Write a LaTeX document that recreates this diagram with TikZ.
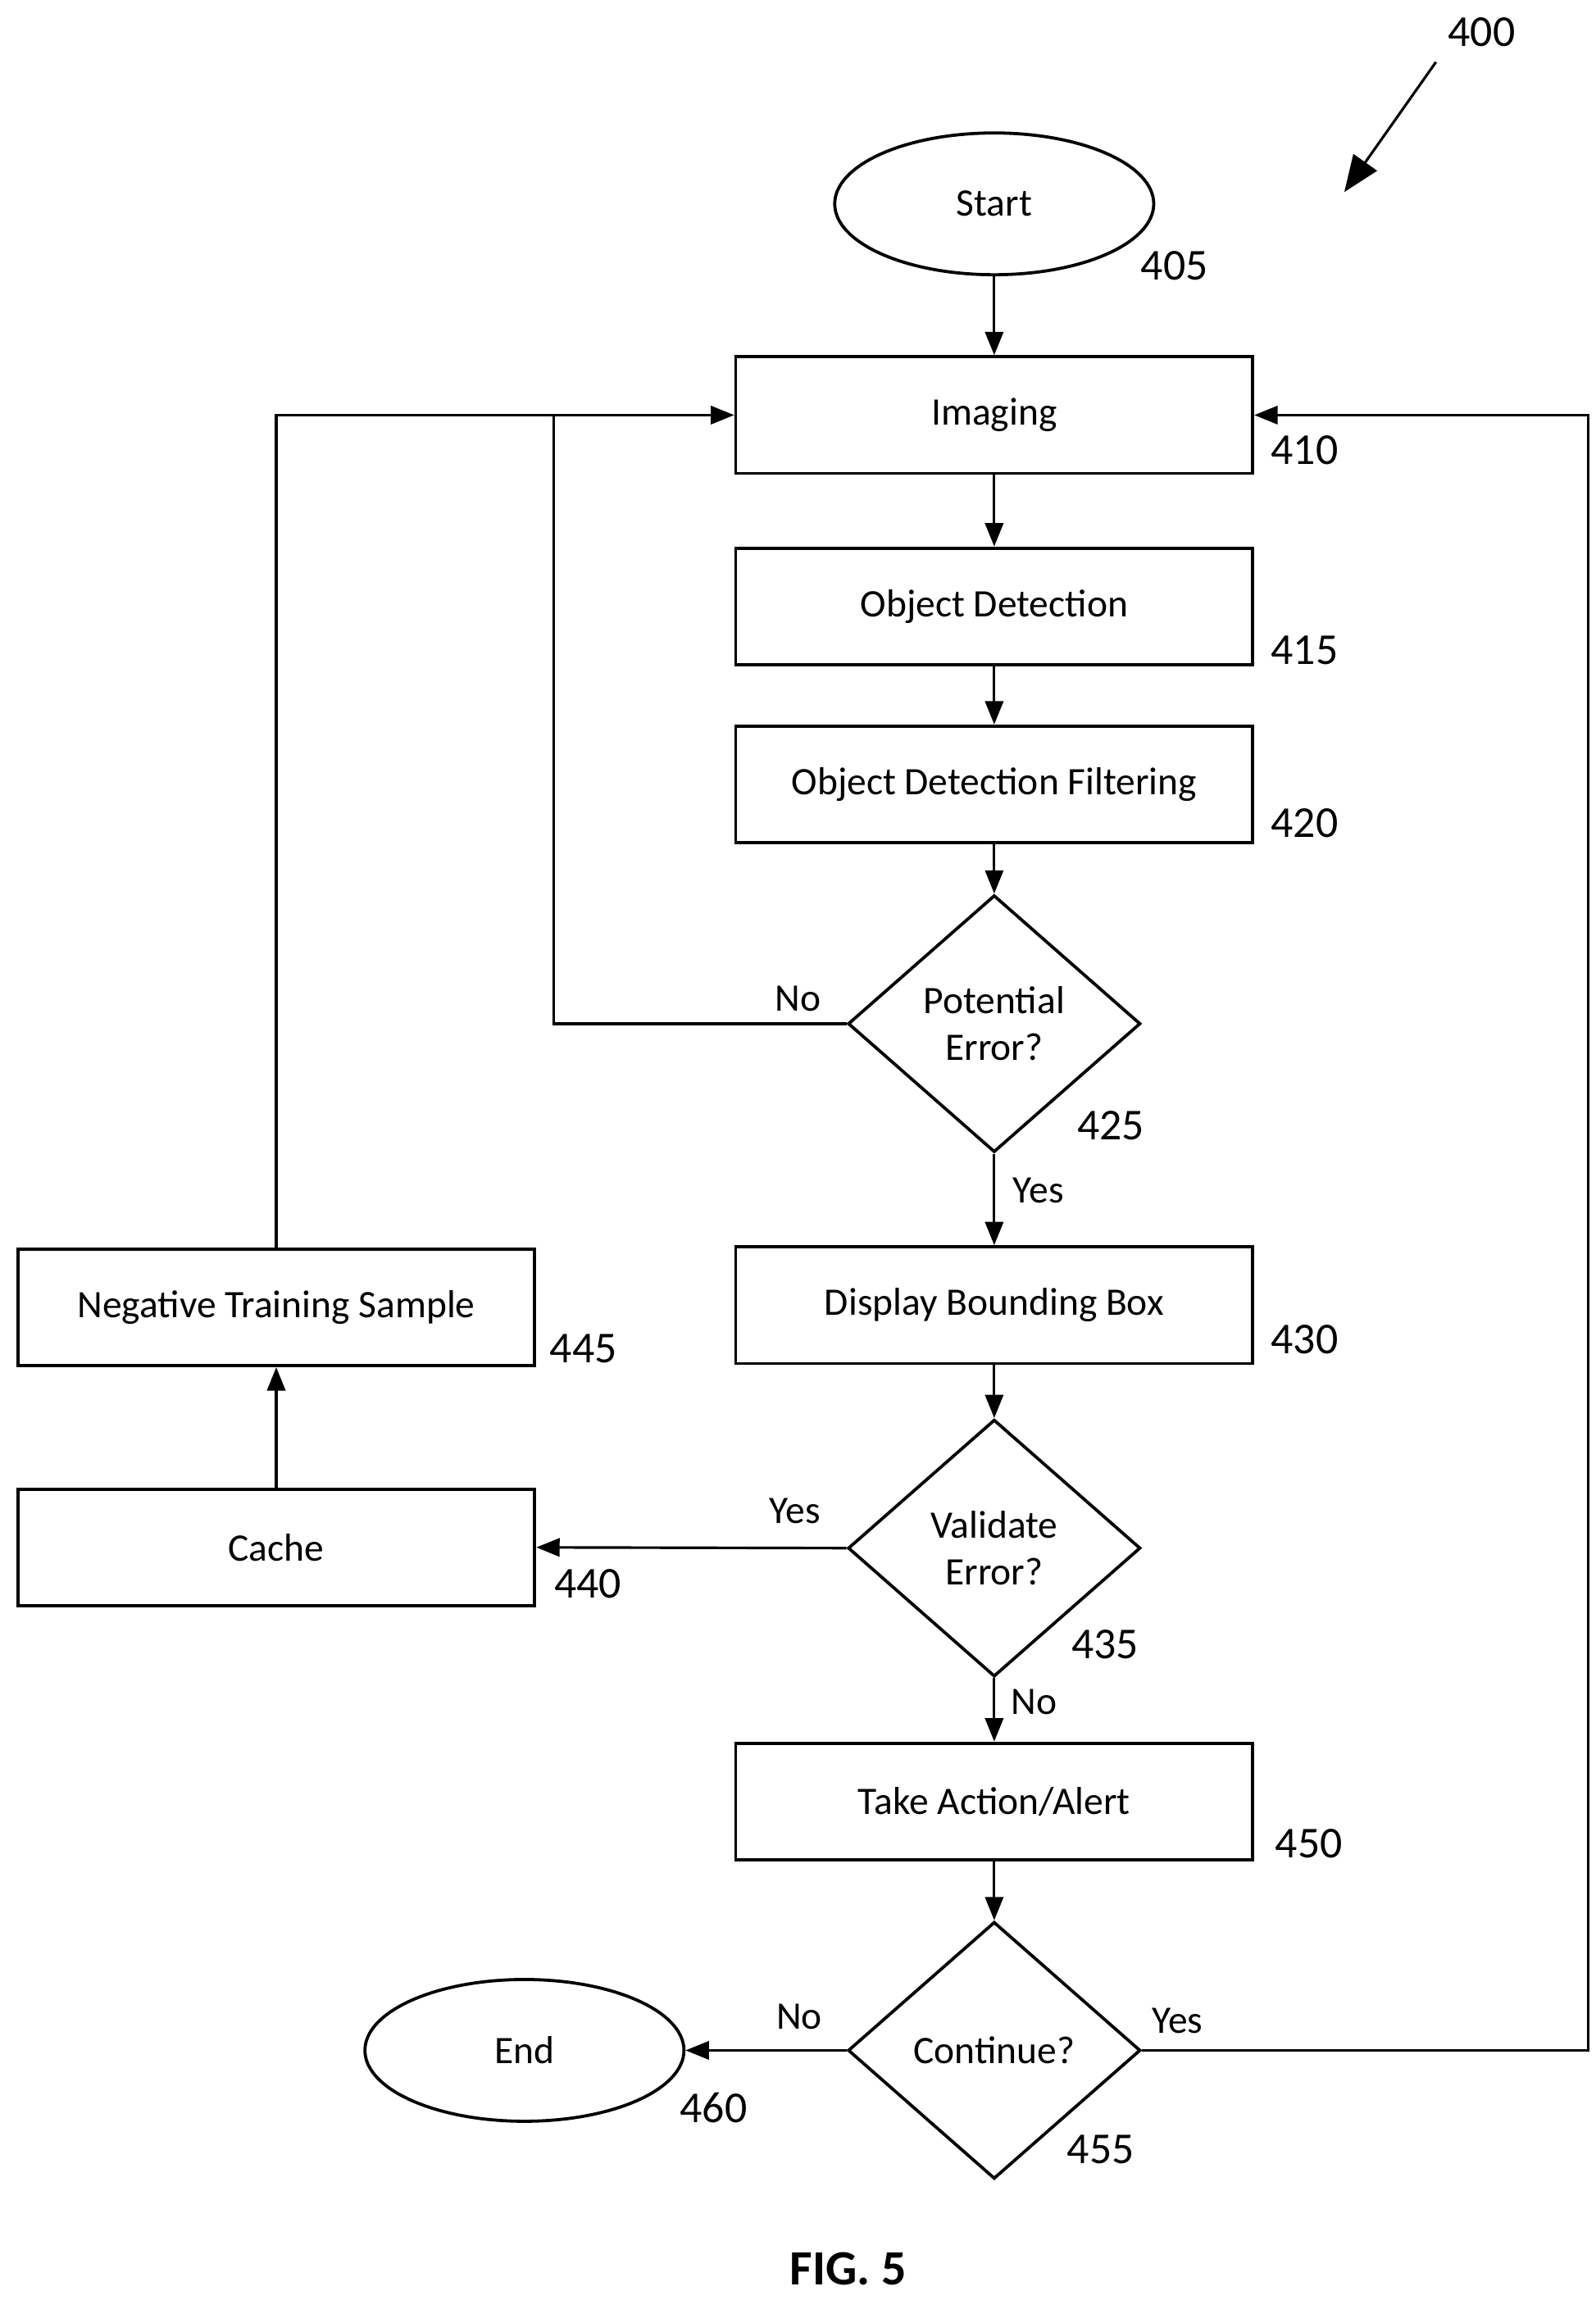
\documentclass[tikz,border=0pt]{standalone}
\usepackage{fontspec}
\setmainfont{Carlito}
\usetikzlibrary{shapes.geometric,arrows.meta}
\begin{document}
\begin{tikzpicture}[x=0.02cm,y=-0.02cm,
  every node/.style={font=\fontsize{15}{18}\selectfont},
  box/.style={draw,line width=1.2pt,minimum width=7cm,minimum height=1.58cm,inner sep=0},
  oval/.style={draw,ellipse,line width=1.2pt,minimum width=4.32cm,minimum height=1.92cm,inner sep=0},
  dia/.style={draw,diamond,line width=1.2pt,minimum width=3.96cm,minimum height=3.48cm,inner sep=0,align=center},
  lab/.style={font=\fontsize{17}{20}\selectfont},
  line/.style={line width=1pt},
  arr/.style={line width=1pt,-{Triangle[length=9pt,width=7pt]}}]
\useasboundingbox (0,0) rectangle (1080,1557);
\node[oval] (start) at (673,138) {Start};
\node[box] (img) at (673,281) {Imaging};
\node[box] (od) at (673,410.5) {Object Detection};
\node[box] (odf) at (673,531) {Object Detection Filtering};
\node[dia] (d425) at (673,693) {Potential\\Error?};
\node[box] (dbb) at (673,883.5) {Display Bounding Box};
\node[dia] (d435) at (673,1048) {Validate\\Error?};
\node[box] (cache) at (187,1047.5) {Cache};
\node[box] (nts) at (187,885) {Negative Training Sample};
\node[box] (take) at (673,1219.5) {Take Action/Alert};
\node[dia] (d455) at (673,1388) {Continue?};
\node[oval] (end) at (355,1388) {End};
\node[lab] (l405) at (795,180) {405};
\node[lab] (l410) at (883,305) {410};
\node[lab] (l415) at (883,440) {415};
\node[lab] (l420) at (883,557) {420};
\node[lab] (l425) at (752,762) {425};
\node[lab] (l430) at (883,907) {430};
\node[lab] (l435) at (748,1113) {435};
\node[lab] (l440) at (398,1072) {440};
\node[lab] (l445) at (395,913) {445};
\node[lab] (l450) at (886,1248) {450};
\node[lab] (l455) at (745,1455) {455};
\node[lab] (l460) at (483,1427) {460};
\node[lab] (l400) at (1003,22) {400};
\node (no1) at (540,676) {No};
\node (yes1) at (703,806) {Yes};
\node (yes2) at (538,1023) {Yes};
\node (no2) at (700,1152) {No};
\node (no3) at (541,1365) {No};
\node (yes3) at (797,1368) {Yes};
\node[font=\bfseries\fontsize{19}{22}\selectfont] (fig) at (574,1536) {FIG. 5};
\coordinate (a1) at (972,42);
\coordinate (a2) at (910,130);
\draw[line width=1pt,-{Triangle[length=14pt,width=11pt]}] (a1) -- (a2);
\draw[arr] (start) -- (img);
\draw[arr] (img) -- (od);
\draw[arr] (od) -- (odf);
\draw[arr] (odf) -- (d425.north);
\draw[arr] (d425.south) -- (dbb);
\draw[arr] (dbb) -- (d435.north);
\draw[arr] (d435.south) -- (take);
\draw[arr] (take) -- (d455.north);
\draw[arr] (d435.west) -- (cache.east);
\draw[arr] (cache) -- (nts);
\draw[arr] (d455.west) -- (end.east);
\draw[arr] (nts.north) -- (187,281) -- (img.west);
\draw[line] (d425.west) -- (375,693) -- (375,281);
\draw[arr] (d455.east) -- (1075,1388) -- (1075,281) -- (img.east);
\end{tikzpicture}
\end{document}
